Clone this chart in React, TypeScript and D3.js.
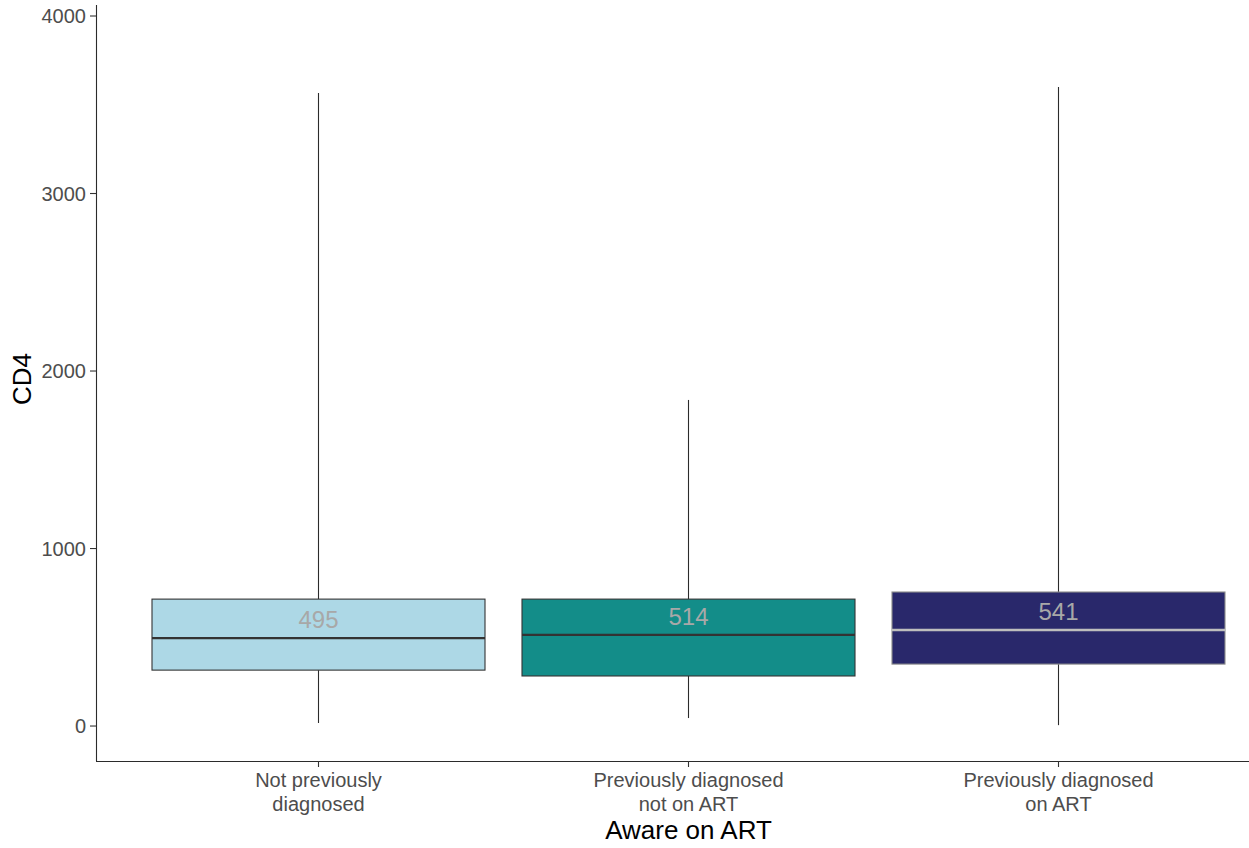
import React from "react";
import * as d3 from "d3";

// CD4 distribution by awareness / ART status
const categories = [
  ["Not previously", "diagnosed"],
  ["Previously diagnosed", "not on ART"],
  ["Previously diagnosed", "on ART"],
];
const lowerWhisker = [17, 45, 5];
const q1 = [315, 282, 349];
const medians = [495, 514, 541];
const q3 = [715, 715, 755];
const upperWhisker = [3566, 1837, 3600];
const yTicks = [0, 1000, 2000, 3000, 4000];

const fills = ["#add8e6", "#138d89", "#29286b"];
const outlines = ["#333333", "#333333", "#8a8a8a"];
const medianColors = ["#333333", "#333333", "#bebebe"];

const W = 1249;
const H = 848;
const left = 96;
const bottom = 761;
const top = 5;
const font = "'Liberation Sans', Arial, sans-serif";

export default function App() {
  const keys = categories.map((_, i) => String(i));
  // discrete axis: 0.6 step of expansion on each side, boxes 0.9 step wide
  const step = 370;
  const x = d3
    .scalePoint<string>()
    .domain(keys)
    .range([left + 0.6 * step, left + 0.6 * step + (keys.length - 1) * step]);
  const cx = (i: number) => (x(keys[i]) as number) + 0.5;
  const boxW = 0.9 * step;
  const y = d3.scaleLinear().domain([-197, 4062]).range([bottom, top]);

  return (
    <svg width={W} height={H} style={{ position: "absolute", left: 0, top: 0, background: "#fff" }} fontFamily={font}>
      {/* whiskers */}
      {keys.map((k, i) => (
        <g key={"w" + k}>
          <line x1={cx(i)} x2={cx(i)} y1={y(upperWhisker[i])} y2={y(q3[i])} stroke="#2b2b2b" strokeWidth={1.1} />
          <line x1={cx(i)} x2={cx(i)} y1={y(q1[i])} y2={y(lowerWhisker[i])} stroke="#2b2b2b" strokeWidth={1.1} />
        </g>
      ))}
      {/* boxes */}
      {keys.map((k, i) => (
        <g key={"b" + k}>
          <rect
            x={cx(i) - boxW / 2}
            y={y(q3[i])}
            width={boxW}
            height={y(q1[i]) - y(q3[i])}
            fill={fills[i]}
            stroke={outlines[i]}
            strokeWidth={1.1}
          />
          <line
            x1={cx(i) - boxW / 2}
            x2={cx(i) + boxW / 2}
            y1={y(medians[i])}
            y2={y(medians[i])}
            stroke={medianColors[i]}
            strokeWidth={2.3}
          />
          <text
            x={cx(i)}
            y={y(medians[i]) - 10}
            textAnchor="middle"
            fontSize={24}
            fill="#a8a8a8"
          >
            {medians[i]}
          </text>
        </g>
      ))}
      {/* y axis */}
      <line x1={left + 0.5} x2={left + 0.5} y1={top} y2={bottom} stroke="#2b2b2b" strokeWidth={1.1} />
      {yTicks.map((t) => (
        <g key={"yt" + t}>
          <line x1={left - 6} x2={left} y1={y(t)} y2={y(t)} stroke="#333" strokeWidth={1.1} />
          <text x={left - 10} y={y(t)} dy="0.35em" textAnchor="end" fontSize={20} fill="#4d4d4d">
            {t}
          </text>
        </g>
      ))}
      {/* x axis */}
      <line x1={left} x2={W} y1={bottom + 0.5} y2={bottom + 0.5} stroke="#2b2b2b" strokeWidth={1.1} />
      {keys.map((k, i) => (
        <g key={"xt" + k}>
          <line x1={cx(i)} x2={cx(i)} y1={bottom} y2={bottom + 6} stroke="#333" strokeWidth={1.1} />
          {categories[i].map((line, j) => (
            <text key={j} x={cx(i)} y={787 + j * 24} textAnchor="middle" fontSize={20} fill="#4d4d4d">
              {line}
            </text>
          ))}
        </g>
      ))}
      <text x={cx(1)} y={839} textAnchor="middle" fontSize={26} fill="#000">
        Aware on ART
      </text>
      <text transform={`translate(31, ${y(2000) + 8}) rotate(-90)`} textAnchor="middle" fontSize={26} fill="#000">
        CD4
      </text>
    </svg>
  );
}
